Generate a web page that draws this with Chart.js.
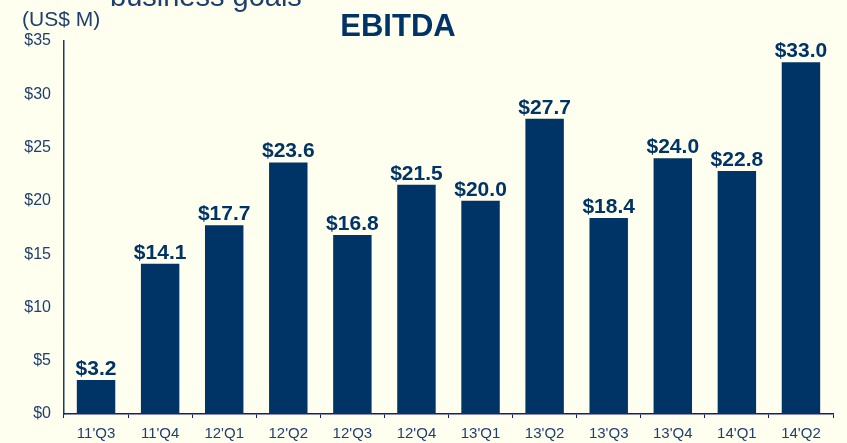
<!DOCTYPE html>
<html>
<head>
<meta charset="utf-8">
<script src="https://cdn.jsdelivr.net/npm/chart.js@4.4.0/dist/chart.umd.min.js"></script>
<style>
  html, body { margin: 0; padding: 0; background: #FFFFF0; }
  #wrap { width: 847px; height: 443px; position: relative; }
</style>
</head>
<body>
<div id="wrap"><canvas id="ebitdaChart" width="847" height="443"></canvas></div>
<script>
// 数据
const quarters = ["11'Q3", "11'Q4", "12'Q1", "12'Q2", "12'Q3", "12'Q4", "13'Q1", "13'Q2", "13'Q3", "13'Q4", "14'Q1", "14'Q2"];
const ebitda = [3.2, 14.1, 17.7, 23.6, 16.8, 21.5, 20.0, 27.7, 18.4, 24.0, 22.8, 33.0];
const yTicks = [0, 5, 10, 15, 20, 25, 30, 35];

const navy = '#003366';
const labelColor = '#1F3F6F';
const fontFamily = 'Arial, "Liberation Sans", sans-serif';

// 标题、单位和数值标签
const textPlugin = {
    id: 'texts',
    afterDatasetsDraw(chart) {
        const ctx = chart.ctx;
        ctx.save();
        // 被截断的上方文字
        ctx.fillStyle = labelColor;
        ctx.font = '29px ' + fontFamily;
        ctx.textAlign = 'left';
        ctx.textBaseline = 'alphabetic';
        ctx.fillText('business goals', 110, 6);

        ctx.font = '21px ' + fontFamily;
        ctx.textBaseline = 'middle';
        ctx.fillText('(US$ M)', 22, 20);

        ctx.fillStyle = navy;
        ctx.font = 'bold 31px ' + fontFamily;
        ctx.textAlign = 'center';
        ctx.fillText('EBITDA', 398, 27);

        // 柱顶数值
        ctx.font = 'bold 21px ' + fontFamily;
        ctx.textBaseline = 'alphabetic';
        const meta = chart.getDatasetMeta(0);
        meta.data.forEach((bar, i) => {
            ctx.fillText('$' + ebitda[i].toFixed(1), bar.x, bar.y - 5);
        });
        ctx.restore();
    }
};

new Chart(document.getElementById('ebitdaChart'), {
    type: 'bar',
    data: {
        labels: quarters,
        datasets: [{
            data: ebitda,
            backgroundColor: navy,
            borderWidth: 0,
            barPercentage: 0.6,
            categoryPercentage: 1.0
        }]
    },
    options: {
        responsive: false,
        animation: false,
        layout: { padding: { top: 41, right: 14, left: 0, bottom: 0 } },
        plugins: {
            legend: { display: false },
            tooltip: { enabled: false }
        },
        scales: {
            x: {
                afterFit: scale => { scale.height = 29; },
                grid: {
                    display: true,
                    offset: true,
                    drawOnChartArea: false,
                    drawTicks: true,
                    tickLength: 4,
                    color: '#1A1A7A'
                },
                border: { display: true, color: '#1A1A7A', width: 1.5 },
                ticks: {
                    color: labelColor,
                    font: { family: fontFamily, size: 15 },
                    padding: 7,
                    maxRotation: 0
                }
            },
            y: {
                min: 0,
                max: 35,
                afterFit: scale => { scale.width = 64; },
                afterBuildTicks: scale => { scale.ticks = yTicks.map(v => ({ value: v })); },
                grid: { display: false, drawTicks: false },
                border: { display: true, color: '#1F3864', width: 1.5 },
                ticks: {
                    color: labelColor,
                    font: { family: fontFamily, size: 16 },
                    padding: 13,
                    callback: v => '$' + v
                }
            }
        }
    },
    plugins: [textPlugin]
});
</script>
</body>
</html>
